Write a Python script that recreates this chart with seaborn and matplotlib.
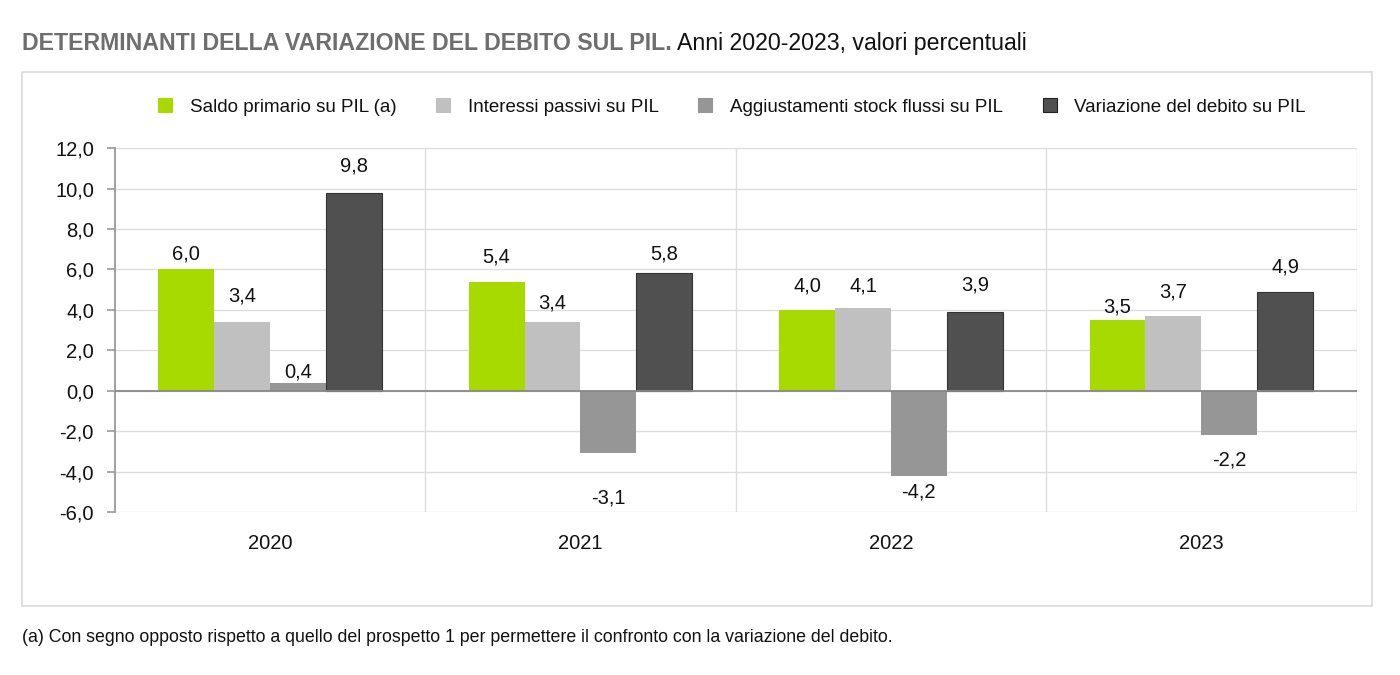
import matplotlib
matplotlib.use("Agg")
import matplotlib.pyplot as plt
import matplotlib.patches as mpatches
from matplotlib.lines import Line2D
from matplotlib.ticker import FuncFormatter, MultipleLocator, FixedLocator
import seaborn as sns
import pandas as pd
from matplotlib import font_manager

years = ["2020", "2021", "2022", "2023"]
series = ["Saldo primario su PIL (a)", "Interessi passivi su PIL",
          "Aggiustamenti stock flussi su PIL", "Variazione del debito su PIL"]
saldo = [6.0, 5.4, 4.0, 3.5]
interessi = [3.4, 3.4, 4.1, 3.7]
aggiust = [0.4, -3.1, -4.2, -2.2]
variazione = [9.8, 5.8, 3.9, 4.9]
colors = ["#A6DA00", "#C0C0C0", "#969696", "#505050"]

# label offsets (points) per series per year
label_off = [
    [11, 18, 17, 9],
    [19, 14, 16, 17],
    [8, -32, -12, -18],
    [19, 14, 19, 18],
]

names = {f.name for f in font_manager.fontManager.ttflist}
fam = ["Liberation Sans Narrow"] if "Liberation Sans Narrow" in names else []
fam += ["Liberation Sans", "DejaVu Sans"]

sns.set_theme(style="white")
plt.rcParams["font.family"] = fam

rows = []
for s, vals in zip(series, [saldo, interessi, aggiust, variazione]):
    for y, v in zip(years, vals):
        rows.append({"Anno": y, "Serie": s, "Valore": v})
df = pd.DataFrame(rows)

fig = plt.figure(figsize=(14, 6.75), dpi=100)
ax = fig.add_axes([0.082, 0.2415, 0.887, 0.539])

sns.barplot(data=df, x="Anno", y="Valore", hue="Serie", hue_order=series,
            order=years, palette=colors, width=0.72, ax=ax, legend=False,
            saturation=1, errorbar=None)

for i, cont in enumerate(ax.containers):
    for j, bar in enumerate(cont):
        if i == 3:
            bar.set_edgecolor("#333333")
            bar.set_linewidth(0.8)
        else:
            bar.set_linewidth(0)
        v = [saldo, interessi, aggiust, variazione][i][j]
        x = bar.get_x() + bar.get_width() / 2
        ax.annotate(f"{v:.1f}".replace(".", ","), xy=(x, v),
                    xytext=(0, label_off[i][j]), textcoords="offset points",
                    ha="center", va="center", fontsize=14.5, color="#111111")

ax.set_ylim(-6, 12)
ax.set_xlim(-0.5, 3.5)
ax.yaxis.set_major_locator(MultipleLocator(2))
ax.yaxis.set_major_formatter(FuncFormatter(lambda v, p: f"{v:.1f}".replace(".", ",")))
ax.xaxis.set_minor_locator(FixedLocator([0.5, 1.5, 2.5, 3.5]))
ax.grid(axis="y", which="major", color="#DDDDDD", linewidth=1)
ax.grid(axis="x", which="minor", color="#DDDDDD", linewidth=1)
ax.set_axisbelow(True)
ax.axhline(0, color="#888888", linewidth=1.3, zorder=3)
for s in ["top", "right", "bottom"]:
    ax.spines[s].set_visible(False)
ax.spines["left"].set_color("#999999")
ax.spines["left"].set_linewidth(1.3)
ax.tick_params(axis="y", which="major", left=True, length=6, width=1.2,
               color="#999999", labelsize=14.5, labelcolor="#111111", pad=9)
ax.tick_params(axis="x", which="both", bottom=False, labelsize=14.5,
               labelcolor="#111111", pad=10)
ax.set_xlabel("")
ax.set_ylabel("")

handles = [Line2D([0], [0], marker="s", linestyle="", markersize=10,
                  markerfacecolor=c, markeredgecolor=("#222222" if k == 3 else c),
                  markeredgewidth=0.8)
           for k, c in enumerate(colors)]
fig.legend(handles, series, loc="center", bbox_to_anchor=(0.522, 0.841),
           ncol=4, frameon=False, fontsize=13.5, handletextpad=0.8,
           columnspacing=2.0, handlelength=1.0, labelcolor="#111111")

frame = mpatches.Rectangle((0.0157, 0.102), 0.9643, 0.791, transform=fig.transFigure,
                           fill=False, edgecolor="#D9D9D9", linewidth=1.2)
fig.add_artist(frame)

t1 = fig.text(0.0157, 0.936, "DETERMINANTI DELLA VARIAZIONE DEL DEBITO SUL PIL.",
              fontsize=16.7, fontweight="bold", color="#6E6E6E", va="center", ha="left")
fig.canvas.draw()
bb = t1.get_window_extent()
x_end = bb.x1 / fig.bbox.width
fig.text(x_end + 0.004, 0.936, "Anni 2020-2023, valori percentuali",
         fontsize=16.7, color="#111111", va="center", ha="left")

fig.text(0.0157, 0.055, "(a) Con segno opposto rispetto a quello del prospetto 1 per permettere il confronto con la variazione del debito.",
         fontsize=12.8, color="#111111", va="center", ha="left")

fig.savefig("out.png", dpi=100)
